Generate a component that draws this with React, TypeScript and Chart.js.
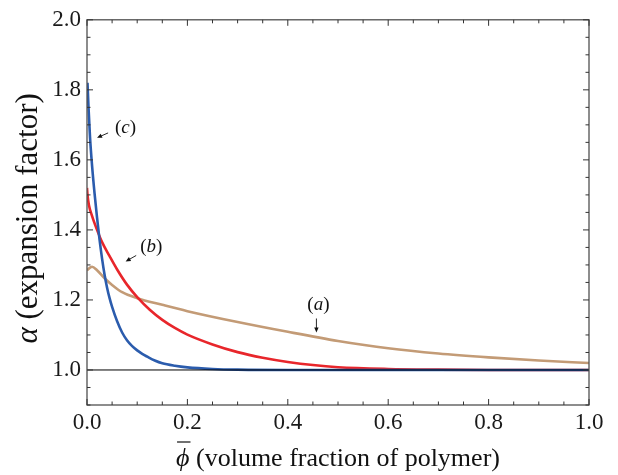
import React, { useEffect, useRef } from "react";
import { Chart, registerables } from "chart.js";

Chart.register(...registerables);

// ---- data ----
const tanX = [0, 0.01, 0.02, 0.035, 0.05, 0.07, 0.1, 0.15, 0.2, 0.3, 0.4, 0.5, 0.6, 0.7, 0.8, 0.9, 1.0];
const tanY = [1.285, 1.295, 1.285, 1.262, 1.243, 1.222, 1.205, 1.186, 1.168, 1.137, 1.109, 1.083, 1.062, 1.047, 1.036, 1.027, 1.02];

const redX = [0, 0.001, 0.004, 0.01, 0.02, 0.03, 0.045, 0.06, 0.08, 0.1, 0.125, 0.15, 0.175, 0.2, 0.25, 0.3, 0.35, 0.4, 0.45, 0.5, 0.6, 0.7, 0.8, 1.0];
const redY = [1.52, 1.5, 1.47, 1.44, 1.4, 1.365, 1.325, 1.287, 1.243, 1.208, 1.172, 1.143, 1.12, 1.101, 1.073, 1.051, 1.035, 1.023, 1.014, 1.008, 1.003, 1.001, 1.0, 1.0];

const blueX = [0.001, 0.003, 0.006, 0.01, 0.015, 0.02, 0.025, 0.03, 0.035, 0.04, 0.045, 0.05, 0.06, 0.07, 0.08, 0.09, 0.1, 0.11, 0.12, 0.135, 0.15, 0.175, 0.2, 0.25, 0.3, 0.4, 1.0];
const blueY = [1.82, 1.75, 1.665, 1.585, 1.505, 1.435, 1.372, 1.318, 1.272, 1.235, 1.205, 1.18, 1.139, 1.107, 1.084, 1.068, 1.056, 1.046, 1.038, 1.027, 1.019, 1.012, 1.0075, 1.003, 1.001, 1.0, 1.0];

const baseX = [0, 1];
const baseY = [1, 1];

const xTickValues = [0, 0.2, 0.4, 0.6, 0.8, 1.0];
const yTickValues = [1.0, 1.2, 1.4, 1.6, 1.8, 2.0];

const curveLabels = ["a", "b", "c"];
// label anchor & arrow (data coordinates)
const labelPos = {
  a: { tx: 0.461, ty: 1.185, fx: 0.457, fy: 1.147, ex: 0.457, ey: 1.107 },
  b: { tx: 0.128, ty: 1.352, fx: 0.098, fy: 1.327, ex: 0.077, ey: 1.31 },
  c: { tx: 0.0767, ty: 1.69, fx: 0.042, fy: 1.677, ex: 0.02, ey: 1.663 },
};

const FONT = '"Liberation Serif", "Times New Roman", serif';
const TAN = "#c39b76";
const RED = "#e8262b";
const BLUE = "#2b5cad";

const pts = (xs: number[], ys: number[]) => xs.map((x, i) => ({ x, y: ys[i] }));

type Part = { t: string; it?: boolean };

function partsWidth(ctx: CanvasRenderingContext2D, parts: Part[], size: number) {
  let w = 0;
  for (const p of parts) {
    ctx.font = `${p.it ? "italic " : ""}${size}px ${FONT}`;
    w += ctx.measureText(p.t).width;
  }
  return w;
}

function drawParts(ctx: CanvasRenderingContext2D, parts: Part[], size: number, x: number, y: number) {
  let cx = x;
  const spans: number[] = [];
  for (const p of parts) {
    ctx.font = `${p.it ? "italic " : ""}${size}px ${FONT}`;
    ctx.fillText(p.t, cx, y);
    const w = ctx.measureText(p.t).width;
    spans.push(cx, w);
    cx += w;
  }
  return spans;
}

const framePlugin = {
  id: "frame",
  afterDatasetsDraw(chart: any) {
    const { ctx, chartArea: a, scales } = chart;
    const xs = scales.x;
    const ys = scales.y;
    ctx.save();
    ctx.strokeStyle = "#505050";
    ctx.lineWidth = 1.3;
    ctx.strokeRect(a.left, a.top, a.right - a.left, a.bottom - a.top);
    ctx.lineWidth = 1;
    ctx.strokeStyle = "#333";
    ctx.beginPath();
    for (let k = 0; k <= 20; k++) {
      const px = xs.getPixelForValue(k * 0.05);
      const len = k % 4 === 0 ? 6 : 3.5;
      ctx.moveTo(px, a.bottom);
      ctx.lineTo(px, a.bottom - len);
      ctx.moveTo(px, a.top);
      ctx.lineTo(px, a.top + len);
    }
    for (let k = 0; k <= 22; k++) {
      const v = 0.9 + k * 0.05;
      const py = ys.getPixelForValue(v);
      const len = Math.round(v * 100) % 20 === 0 ? 6 : 3.5;
      ctx.moveTo(a.left, py);
      ctx.lineTo(a.left + len, py);
      ctx.moveTo(a.right, py);
      ctx.lineTo(a.right - len, py);
    }
    ctx.stroke();

    // curve labels with arrows
    ctx.fillStyle = "#111";
    ctx.strokeStyle = "#111";
    ctx.textBaseline = "middle";
    ctx.textAlign = "left";
    for (const key of curveLabels) {
      const p = (labelPos as any)[key];
      const parts: Part[] = [{ t: "(" }, { t: key, it: true }, { t: ")" }];
      const size = 19;
      const w = partsWidth(ctx, parts, size);
      drawParts(ctx, parts, size, xs.getPixelForValue(p.tx) - w / 2, ys.getPixelForValue(p.ty));
      const x0 = xs.getPixelForValue(p.fx);
      const y0 = ys.getPixelForValue(p.fy);
      const x1 = xs.getPixelForValue(p.ex);
      const y1 = ys.getPixelForValue(p.ey);
      const ang = Math.atan2(y1 - y0, x1 - x0);
      const hl = 5;
      const hw = 2.2;
      ctx.lineWidth = 0.9;
      ctx.beginPath();
      ctx.moveTo(x0, y0);
      ctx.lineTo(x1 - Math.cos(ang) * hl * 0.8, y1 - Math.sin(ang) * hl * 0.8);
      ctx.stroke();
      ctx.beginPath();
      ctx.moveTo(x1, y1);
      ctx.lineTo(x1 - Math.cos(ang) * hl - Math.sin(ang) * hw, y1 - Math.sin(ang) * hl + Math.cos(ang) * hw);
      ctx.lineTo(x1 - Math.cos(ang) * hl + Math.sin(ang) * hw, y1 - Math.sin(ang) * hl - Math.cos(ang) * hw);
      ctx.closePath();
      ctx.fill();
    }

    // axis titles
    ctx.textBaseline = "alphabetic";
    // x title
    const xsize = 26;
    const xParts: Part[] = [{ t: "\u03D5", it: true }, { t: " (volume fraction of polymer)" }];
    const xw = partsWidth(ctx, xParts, xsize);
    const xStart = (a.left + a.right) / 2 - xw / 2;
    const xBase = a.bottom + 61;
    const spans = drawParts(ctx, xParts, xsize, xStart, xBase);
    ctx.lineWidth = 1.2;
    ctx.beginPath();
    ctx.moveTo(spans[0] + 1, xBase - 24);
    ctx.lineTo(spans[0] + spans[1] + 1, xBase - 24);
    ctx.stroke();
    // y title
    const ysize = 31;
    const yParts: Part[] = [{ t: "\u03B1", it: true }, { t: " (expansion factor)" }];
    const yw = partsWidth(ctx, yParts, ysize);
    ctx.save();
    ctx.translate(a.left - 50, (a.top + a.bottom) / 2 + 6);
    ctx.rotate(-Math.PI / 2);
    drawParts(ctx, yParts, ysize, -yw / 2, 0);
    ctx.restore();
    ctx.restore();
  },
};

export default function App() {
  const ref = useRef<HTMLCanvasElement | null>(null);
  useEffect(() => {
    document.body.style.margin = "0";
    const canvas = ref.current;
    if (!canvas) return;
    const line = (xs: number[], ys: number[], color: string, width: number) => ({
      data: pts(xs, ys),
      borderColor: color,
      borderWidth: width,
      pointRadius: 0,
      fill: false,
      cubicInterpolationMode: "monotone" as const,
    });
    const chart = new Chart(canvas, {
      type: "line",
      data: {
        datasets: [
          line(baseX, baseY, "#000", 1),
          line(blueX, blueY, BLUE, 2.6),
          line(redX, redY, RED, 2.6),
          line(tanX, tanY, TAN, 2.6),
        ],
      },
      options: {
        animation: false,
        responsive: false,
        events: [],
        layout: { padding: { top: 18, right: 29, left: 0, bottom: 0 } },
        plugins: { legend: { display: false }, tooltip: { enabled: false } },
        scales: {
          x: {
            type: "linear",
            min: 0,
            max: 1,
            grid: { display: false, drawTicks: false },
            border: { display: false },
            ticks: {
              font: { family: FONT, size: 23 },
              color: "#1a1a1a",
              padding: 4,
              maxRotation: 0,
              callback: (v: any) => Number(v).toFixed(1),
            },
            afterBuildTicks: (s: any) => {
              s.ticks = xTickValues.map((value) => ({ value }));
            },
            afterFit: (s: any) => {
              s.height = 70;
            },
          },
          y: {
            type: "linear",
            min: 0.9,
            max: 2.0,
            grid: { display: false, drawTicks: false },
            border: { display: false },
            ticks: {
              font: { family: FONT, size: 23 },
              color: "#1a1a1a",
              padding: 6,
              callback: (v: any) => Number(v).toFixed(1),
            },
            afterBuildTicks: (s: any) => {
              s.ticks = yTickValues.map((value) => ({ value }));
            },
            afterFit: (s: any) => {
              s.width = 87;
            },
          },
        },
      },
      plugins: [framePlugin],
    });
    return () => chart.destroy();
  }, []);
  return (
    <div style={{ width: 618, height: 475 }}>
      <canvas ref={ref} width={618} height={475} style={{ width: 618, height: 475, display: "block" }} />
    </div>
  );
}
